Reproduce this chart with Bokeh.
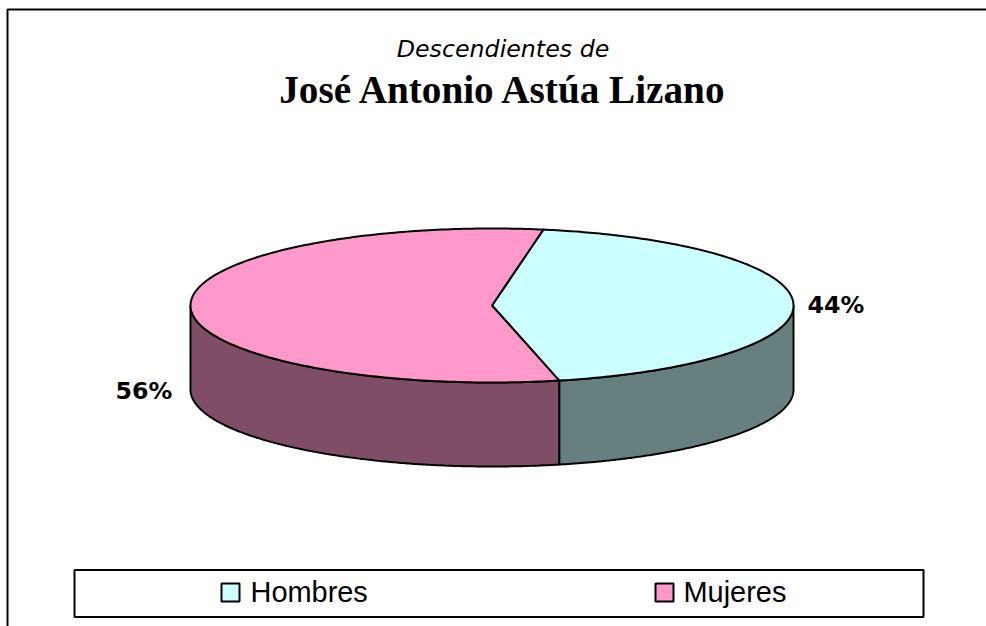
import math
from bokeh.plotting import figure
from bokeh.models import Range1d
from bokeh.core.properties import value
from bokeh.embed import file_html
from bokeh.resources import INLINE

categories = ["Hombres", "Mujeres"]
shares = [43.7, 56.3]
top_colors = ["#CCFFFF", "#FF99CC"]
side_colors = ["#668080", "#804D66"]
title_small = "Descendientes de"
title_big = "José Antonio Astúa Lizano"

W, H = 986, 626
p = figure(width=W, height=H, output_backend="svg", toolbar_location=None,
           x_range=Range1d(0, W), y_range=Range1d(H, 0), min_border=0,
           margin=(0, 0, 0, 0))
p.axis.visible = False
p.grid.visible = False
p.outline_line_color = None
p.background_fill_color = "white"
p.border_fill_color = "white"

# chart frame: runs off the right and bottom of the page
p.line(x=[7, 7, 986], y=[626, 9, 9], line_color="black", line_width=2)

cx, cy, rx, ry, depth = 491.5, 305, 301.5, 77, 84
start = math.radians(9.8)

def pt(a, dy=0):
    return cx + rx * math.sin(a), cy - ry * math.cos(a) + dy

total = sum(shares)
spans = []
a = start
for s in shares:
    b = a + 2 * math.pi * s / total
    spans.append((a, b))
    a = b

def arc(a, b, dy=0, n=240):
    out = [pt(a + (b - a) * i / n, dy) for i in range(n + 1)]
    return [q[0] for q in out], [q[1] for q in out]

# side walls: visible part is the lower half of the ellipse
for (a, b), col in zip(spans, side_colors):
    lo, hi = max(a, math.pi / 2), min(b, 3 * math.pi / 2)
    x1, y1 = arc(lo, hi)
    x2, y2 = arc(hi, lo, depth)
    p.patch(x1 + x2, y1 + y2, fill_color=col, line_color="black", line_width=2)

# top slices
for (a, b), col in zip(spans, top_colors):
    x1, y1 = arc(a, b)
    p.patch([cx] + x1, [cy] + y1, fill_color=col, line_color="black", line_width=2,
            line_join="round")

# value labels
p.text(x=[807], y=[304], text=[f"{round(shares[0])}%"], text_font=value("DejaVu Sans"),
       text_font_style="bold", text_font_size="17.8pt", text_baseline="middle", text_align="left")
p.text(x=[115], y=[390], text=[f"{round(shares[1])}%"], text_font=value("DejaVu Sans"),
       text_font_style="bold", text_font_size="17.8pt", text_baseline="middle", text_align="left")

# titles
p.text(x=[502.5], y=[48], text=[title_small], text_font=value("DejaVu Sans"), text_font_style="italic",
       text_font_size="17.8pt", text_align="center", text_baseline="middle")
p.text(x=[503.5], y=[89], text=[title_big], text_font=value("Liberation Serif"), text_font_style="bold",
       text_font_size="29.4pt", text_align="center", text_baseline="middle")

# legend
p.rect(x=[(74 + 923) / 2], y=[(569.5 + 616.5) / 2], width=[923 - 74], height=[616.5 - 569.5],
       fill_color="white", line_color="black", line_width=2)
for x0, xt, name, col in zip([230, 664], [250, 683], categories, top_colors):
    p.rect(x=[x0], y=[592], width=[18], height=[18], fill_color=col, line_color="black", line_width=2)
    p.text(x=[xt], y=[591], text=[name], text_font=value("Liberation Sans"), text_font_size="21.7pt",
           text_align="left", text_baseline="middle")

open("out.html", "w").write(file_html(p, INLINE))
